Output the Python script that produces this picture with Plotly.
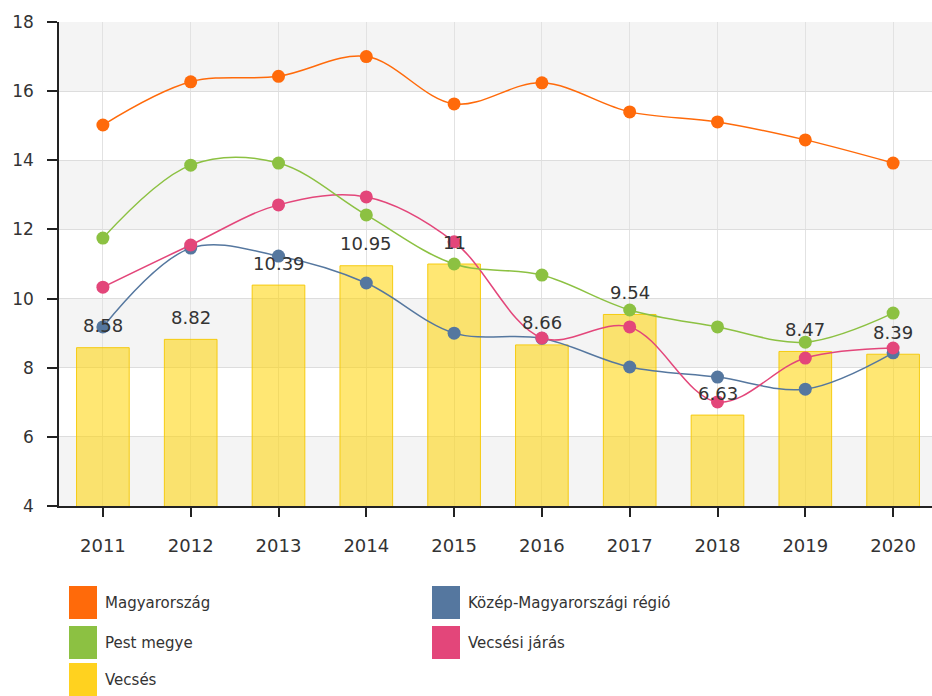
import plotly.graph_objects as go

# ---------------- data ----------------
years = ['2011', '2012', '2013', '2014', '2015', '2016', '2017', '2018', '2019', '2020']
vecses = [8.58, 8.82, 10.39, 10.95, 11, 8.66, 9.54, 6.63, 8.47, 8.39]
magyarorszag = [15.02, 16.27, 16.43, 17.0, 15.63, 16.24, 15.4, 15.11, 14.59, 13.92]
pest_megye = [11.75, 13.86, 13.92, 12.42, 11.0, 10.68, 9.67, 9.18, 8.74, 9.58]
kozep_regio = [9.18, 11.46, 11.23, 10.45, 9.0, 8.85, 8.02, 7.73, 7.38, 8.43]
vecsesi_jaras = [10.33, 11.55, 12.71, 12.94, 11.64, 8.86, 9.18, 7.01, 8.28, 8.57]
y_ticks = [4, 6, 8, 10, 12, 14, 16, 18]

series_names = ['Magyarország', 'Közép-Magyarországi régió', 'Pest megye', 'Vecsési járás', 'Vecsés']
colors = {
    'Magyarország': '#FF6A0A',
    'Pest megye': '#8CC142',
    'Közép-Magyarországi régió': '#55779F',
    'Vecsési járás': '#E3467A',
    'Vecsés': '#FFD21F',
}

W, H = 932, 696
PL, PR, PT, PB = 59, 932, 22, 506  # plot area in pixels

def px_x(px):
    return (px - PL) / (PR - PL)

def px_y(py):
    return (PB - py) / (PB - PT)

fig = go.Figure()

fig.add_trace(go.Bar(
    x=years, y=vecses, name='Vecsés', width=0.6,
    marker=dict(color='rgba(255,212,0,0.55)', line=dict(color='rgba(245,200,0,0.9)', width=1)),
    showlegend=False,
))

line_series = [
    ('Magyarország', magyarorszag),
    ('Pest megye', pest_megye),
    ('Vecsési járás', vecsesi_jaras),
    ('Közép-Magyarországi régió', kozep_regio),
]
for name, vals in line_series[::-1]:
    c = colors[name]
    fig.add_trace(go.Scatter(
        x=years, y=vals, name=name, mode='lines+markers',
        line=dict(color=c, width=1.5, shape='spline', smoothing=1.0),
        marker=dict(color=c, size=13),
        showlegend=False,
    ))

# data labels for bars (category index positions on the x axis)
for i, v in enumerate(vecses):
    fig.add_annotation(x=i, y=v, xref='x', yref='y', text=f'{v:g}', showarrow=False,
                       yanchor='middle', xanchor='center', yshift=22,
                       font=dict(size=18, color='#333333', family='DejaVu Sans'))

# alternating bands
shapes = []
for lo in [4, 8, 12, 16]:
    shapes.append(dict(type='rect', xref='paper', yref='y', x0=0, x1=1, y0=lo, y1=lo + 2,
                       fillcolor='#F4F4F4', line=dict(width=0), layer='below'))

# manual legend
legend_items = [
    ('Magyarország', 69, 586),
    ('Pest megye', 69, 626),
    ('Vecsés', 69, 663),
    ('Közép-Magyarországi régió', 432, 586),
    ('Vecsési járás', 432, 626),
]
for name, sx, sy in legend_items:
    shapes.append(dict(type='rect', xref='paper', yref='paper',
                       x0=px_x(sx), x1=px_x(sx + 28), y0=px_y(sy + 33), y1=px_y(sy),
                       fillcolor=colors[name], line=dict(width=0)))
    fig.add_annotation(xref='paper', yref='paper', x=px_x(sx + 34), y=px_y(sy + 17),
                       text=name, showarrow=False, xanchor='left', yanchor='middle',
                       font=dict(size=15, color='#333333', family='DejaVu Sans'))

fig.update_layout(
    width=W, height=H,
    margin=dict(l=PL, r=W - PR, t=PT, b=H - PB, pad=0),
    plot_bgcolor='white', paper_bgcolor='white',
    font=dict(family='DejaVu Sans', color='#333333'),
    shapes=shapes,
    showlegend=False,
    bargap=0.4,
)
fig.update_xaxes(
    type='category', range=[-0.5, 9.443],
    showgrid=True, gridcolor='#E2E2E2', gridwidth=1,
    showline=True, linecolor='#222222', linewidth=1.5,
    ticks='outside', ticklen=9, tickcolor='#222222', tickwidth=1.5,
    ticklabelstandoff=14, tickfont=dict(size=18, color='#333333'),
)
fig.update_yaxes(
    range=[4, 18], tickvals=y_ticks,
    showgrid=True, gridcolor='#DDDDDD', gridwidth=1, zeroline=False,
    showline=True, linecolor='#222222', linewidth=1.5,
    ticks='outside', ticklen=10, tickcolor='#222222', tickwidth=1.5,
    ticklabelstandoff=10, tickfont=dict(size=17, color='#333333'),
)

fig.write_html('out.html', config={'displayModeBar': False},
               post_script="document.body.style.margin='0px';document.body.style.overflow='hidden';")
